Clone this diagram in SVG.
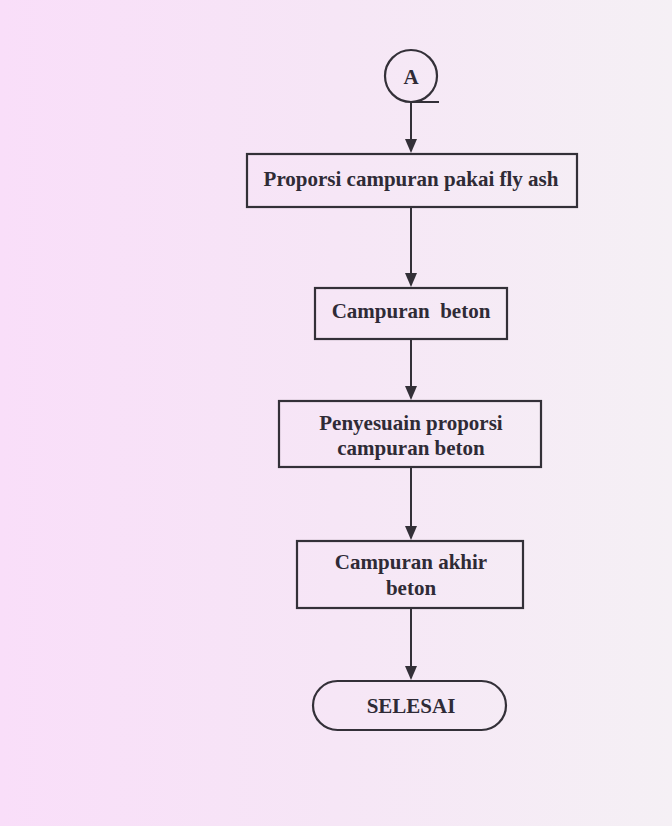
<svg xmlns="http://www.w3.org/2000/svg" width="672" height="826" viewBox="0 0 672 826">
<defs>
<linearGradient id="bg" x1="0" y1="0" x2="1" y2="0">
<stop offset="0" stop-color="#f9def9"/>
<stop offset="0.5" stop-color="#f6e6f6"/>
<stop offset="1" stop-color="#f5f0f5"/>
</linearGradient>
<style>
.box{fill:none;stroke:#333038;stroke-width:2.2}
.t{font-family:"Liberation Serif","Times New Roman",serif;font-weight:bold;font-size:21px;fill:#2f2b36;text-anchor:middle}
.c{stroke:#333038;stroke-width:2;fill:none}
.ah{fill:#333038}
</style>
</defs>
<rect width="672" height="826" fill="url(#bg)"/>
<g id="connectors">
<line class="c" x1="411" y1="101" x2="411" y2="145"/>
<line class="c" x1="411" y1="207" x2="411" y2="280"/>
<line class="c" x1="411" y1="339" x2="411" y2="393"/>
<line class="c" x1="411" y1="467" x2="411" y2="533"/>
<line class="c" x1="411" y1="608" x2="411" y2="673"/>
<path class="ah" d="M405,139 L417,139 L411,153 Z"/>
<path class="ah" d="M405,273 L417,273 L411,287 Z"/>
<path class="ah" d="M405,386 L417,386 L411,400 Z"/>
<path class="ah" d="M405,526 L417,526 L411,540 Z"/>
<path class="ah" d="M405,666 L417,666 L411,680 Z"/>
</g>
<g id="nodeA">
<circle class="box" cx="411" cy="76" r="26"/>
<line class="c" x1="411" y1="102" x2="439" y2="102"/>
<text class="t" x="411" y="84" font-size="19">A</text>
</g>
<g id="node1">
<rect class="box" x="247" y="154" width="330" height="53"/>
<text class="t" x="411" y="186">Proporsi campuran pakai fly ash</text>
</g>
<g id="node2">
<rect class="box" x="315" y="288" width="192" height="51"/>
<text class="t" x="411" y="318" xml:space="preserve">Campuran  beton</text>
</g>
<g id="node3">
<rect class="box" x="279" y="401" width="262" height="66"/>
<text class="t" x="411" y="430">Penyesuain proporsi</text>
<text class="t" x="411" y="455">campuran beton</text>
</g>
<g id="node4">
<rect class="box" x="297" y="541" width="226" height="67"/>
<text class="t" x="411" y="569">Campuran akhir</text>
<text class="t" x="411" y="595">beton</text>
</g>
<g id="end">
<rect class="box" x="313" y="681" width="193" height="49" rx="24.5" ry="24.5"/>
<text class="t" x="411" y="713">SELESAI</text>
</g>
</svg>
